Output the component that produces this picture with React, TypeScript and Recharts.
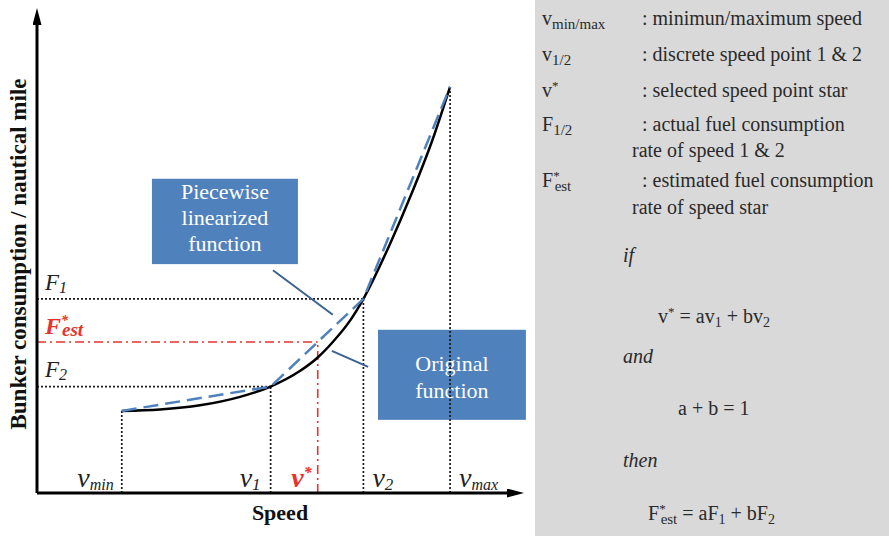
import React from 'react';
import {
  ComposedChart, Line, XAxis, YAxis, ReferenceLine, ReferenceDot, ReferenceArea,
} from 'recharts';

// speed points on the x axis (chart units)
const V_MIN = 18.0;
const V_1 = 49.6;
const V_STAR = 59.6;
const V_2 = 69.3;
const V_MAX = 87.7;

// consumption levels on the y axis
const F_MIN = 17.5;
const F_2 = 22.7;
const F_EST = 32.2;
const F_1 = 41.4;
const F_MAX = 86.6;

// original (convex) consumption curve
const curveSpeed = [18.0, 26.1, 34.6, 43.1, 49.6, 55.8, 59.6, 62.8, 66.5, 69.3, 74.9, 79.6, 83.9, 87.7];
const curveFuel = [17.5, 17.8, 18.7, 20.5, 22.7, 26.0, 28.9, 32.2, 36.8, 41.4, 53.0, 64.0, 75.1, 86.6];

// piecewise linearization through the breakpoints
const pieceSpeed = [V_MIN, V_1, V_2, V_MAX];
const pieceFuel = [F_MIN, F_2, F_1, F_MAX];

const originalData = curveSpeed.map((x, i) => ({ x, y: curveFuel[i] }));
const piecewiseData = pieceSpeed.map((x, i) => ({ x, y: pieceFuel[i] }));

const SERIF = '"Liberation Serif", "Times New Roman", serif';
const RED = '#e8322e';
const BLUE = '#4f81bd';
const LEADER = '#3a6293';
const TEXT = '#2a2a2a';

type Seg = { t: string; s?: number; fs?: number; dx?: number };

// text with sub/superscripts, s = baseline shift in px (positive = down)
const Rich = ({ x, y, segs, ...rest }: any) => {
  let cur = 0;
  return (
    <text x={x} y={y} fontFamily={SERIF} {...rest}>
      {segs.map((g: Seg, i: number) => {
        const s = g.s ?? 0;
        const dy = s - cur;
        cur = s;
        return (
          <tspan key={i} dy={dy} dx={g.dx} fontSize={g.fs}>{g.t}</tspan>
        );
      })}
    </text>
  );
};

const boxShape = (lines: string[], first: number, gap: number) => (p: any) => (
  <g>
    <rect x={p.x} y={p.y} width={p.width} height={p.height} fill={BLUE} />
    <text textAnchor="middle" fill="#fff" fontFamily={SERIF} fontSize={22}>
      {lines.map((l, i) => (
        <tspan key={i} x={p.x + p.width / 2} y={p.y + first + i * gap}>{l}</tspan>
      ))}
    </text>
  </g>
);

const speedLabel = (segs: Seg[], side: 'left' | 'right', off: number, color = '#222', bold = false) => (p: any) => (
  <Rich
    x={side === 'left' ? p.cx - off : p.cx + off}
    y={p.cy - 6}
    textAnchor={side === 'left' ? 'end' : 'start'}
    fontSize={28}
    fontStyle="italic"
    fontWeight={bold ? 'bold' : 'normal'}
    fill={color}
    segs={segs}
  />
);

const fuelLabel = (segs: Seg[], up: number, color = '#222', bold = false, fs = 23) => (p: any) => (
  <Rich
    x={p.cx + 8}
    y={p.cy - up}
    fontSize={fs}
    fontStyle="italic"
    fontWeight={bold ? 'bold' : 'normal'}
    fill={color}
    segs={segs}
  />
);

const dotted = { stroke: '#1a1a1a', strokeWidth: 1.7, strokeDasharray: '2 2' };
const dashDot = { stroke: RED, strokeWidth: 1.6, strokeDasharray: '9 4 2 4' };

const Chart = () => (
  <ComposedChart width={535} height={536} margin={{ top: 24, right: 27, bottom: 42, left: 36 }}>
    <defs>
      <marker
        id="arrowHead"
        viewBox="0 0 17 9"
        refX={1}
        refY={4.5}
        markerWidth={17}
        markerHeight={9}
        markerUnits="userSpaceOnUse"
        orient="auto-start-reverse"
      >
        <path d="M0,0 L17,4.5 L0,9 z" fill="#000" />
      </marker>
    </defs>
    <XAxis
      type="number"
      dataKey="x"
      domain={[0, 100]}
      height={1}
      tick={false}
      tickLine={false}
      axisLine={{ stroke: '#000', strokeWidth: 3, markerEnd: 'url(#arrowHead)' }}
    />
    <YAxis
      type="number"
      dataKey="y"
      domain={[0, 100]}
      width={1}
      tick={false}
      tickLine={false}
      axisLine={{ stroke: '#000', strokeWidth: 3, markerStart: 'url(#arrowHead)' }}
    />

    {/* dotted guides */}
    <ReferenceLine segment={[{ x: V_MIN, y: 0 }, { x: V_MIN, y: F_MIN }]} {...dotted} />
    <ReferenceLine segment={[{ x: V_1, y: 0 }, { x: V_1, y: F_2 }]} {...dotted} />
    <ReferenceLine segment={[{ x: V_2, y: 0 }, { x: V_2, y: F_1 }]} {...dotted} />
    <ReferenceLine segment={[{ x: V_MAX, y: 0 }, { x: V_MAX, y: F_MAX }]} {...dotted} />
    <ReferenceLine segment={[{ x: 0, y: F_1 }, { x: V_2, y: F_1 }]} {...dotted} />
    <ReferenceLine segment={[{ x: 0, y: F_2 }, { x: V_1, y: F_2 }]} {...dotted} />
    <ReferenceLine segment={[{ x: 0, y: F_EST }, { x: V_STAR, y: F_EST }]} {...dashDot} />
    <ReferenceLine segment={[{ x: V_STAR, y: 0 }, { x: V_STAR, y: F_EST }]} {...dashDot} />

    {/* callout boxes and leaders */}
    <ReferenceArea x1={24.4} x2={55.4} y1={48.8} y2={67.0} ifOverflow="visible"
      shape={boxShape(['Piecewise', 'linearized', 'function'], 20, 26)} />
    <ReferenceArea x1={72.4} x2={103.8} y1={15.6} y2={34.8} ifOverflow="visible"
      shape={boxShape(['Original', 'function'], 41, 27)} />
    <ReferenceLine segment={[{ x: 50.1, y: 47.5 }, { x: 62.8, y: 38.0 }]} stroke={LEADER} strokeWidth={2} />
    <ReferenceLine segment={[{ x: 62.6, y: 30.3 }, { x: 70.3, y: 26.9 }]} stroke={LEADER} strokeWidth={2} />

    <Line data={originalData} dataKey="y" type="monotone" stroke="#000" strokeWidth={2.5}
      dot={false} activeDot={false} isAnimationActive={false} />
    <Line data={piecewiseData} dataKey="y" type="linear" stroke={BLUE} strokeWidth={2.5}
      strokeDasharray="15 7" dot={false} activeDot={false} isAnimationActive={false} />

    {/* speed labels */}
    <ReferenceDot x={V_MIN} y={0} shape={speedLabel([{ t: 'v' }, { t: 'min', s: 3, fs: 16 }], 'left', 8)} />
    <ReferenceDot x={V_1} y={0} shape={speedLabel([{ t: 'v' }, { t: '1', s: 3, fs: 17 }], 'left', 10)} />
    <ReferenceDot x={V_STAR} y={0} shape={speedLabel([{ t: 'v' }, { t: '*', s: -9, fs: 16 }], 'left', 6, RED, true)} />
    <ReferenceDot x={V_2} y={0} shape={speedLabel([{ t: 'v' }, { t: '2', s: 3, fs: 17 }], 'right', 9)} />
    <ReferenceDot x={V_MAX} y={0} shape={speedLabel([{ t: 'v' }, { t: 'max', s: 3, fs: 16 }], 'right', 9)} />

    {/* fuel labels */}
    <ReferenceDot x={0} y={F_1} shape={fuelLabel([{ t: 'F' }, { t: '1', s: 3, fs: 16 }], 9)} />
    <ReferenceDot x={0} y={F_EST} shape={fuelLabel([{ t: 'F' }, { t: '*', s: -9, fs: 14 }, { t: 'est', s: 2, fs: 19, dx: -6 }], 8, RED, true, 24)} />
    <ReferenceDot x={0} y={F_2} shape={fuelLabel([{ t: 'F' }, { t: '2', s: 3, fs: 16 }], 10)} />

    <text x={280} y={520} textAnchor="middle" fontFamily={SERIF} fontWeight="bold" fontSize={22} fill="#111">Speed</text>
    <text x={26} y={254} textAnchor="middle" transform="rotate(-90, 26, 254)" fontFamily={SERIF}
      fontWeight="bold" fontSize={23} fill="#111">Bunker consumption / nautical mile</text>
  </ComposedChart>
);

const Panel = () => (
  <svg width={354} height={536} style={{ display: 'block' }}>
    <rect x={0} y={0} width={354} height={536} fill="#d9d9d9" />
    <g fill={TEXT} fontSize={20}>
      <Rich x={7} y={25} segs={[{ t: 'v' }, { t: 'min/max', s: 4, fs: 15 }]} />
      <Rich x={107} y={25} segs={[{ t: ': minimun/maximum speed' }]} />
      <Rich x={7} y={61} segs={[{ t: 'v' }, { t: '1/2', s: 4, fs: 15 }]} />
      <Rich x={107} y={61} segs={[{ t: ': discrete speed point 1 & 2' }]} />
      <Rich x={7} y={97} segs={[{ t: 'v' }, { t: '*', s: -7, fs: 13 }]} />
      <Rich x={107} y={97} segs={[{ t: ': selected speed point star' }]} />
      <Rich x={7} y={131} segs={[{ t: 'F' }, { t: '1/2', s: 4, fs: 15 }]} />
      <Rich x={107} y={131} segs={[{ t: ': actual fuel consumption' }]} />
      <Rich x={97} y={157} segs={[{ t: 'rate of speed 1 & 2' }]} />
      <Rich x={7} y={187} segs={[{ t: 'F' }, { t: '*', s: -7, fs: 13 }, { t: 'est', s: 4, fs: 15, dx: -5 }]} />
      <Rich x={107} y={187} segs={[{ t: ': estimated fuel consumption' }]} />
      <Rich x={97} y={214} segs={[{ t: 'rate of speed star' }]} />

      <Rich x={88} y={262} fontStyle="italic" segs={[{ t: 'if' }]} />
      <Rich x={123} y={323} segs={[
        { t: 'v' }, { t: '*', s: -7, fs: 13 }, { t: ' = av' }, { t: '1', s: 4, fs: 14 }, { t: ' + bv' }, { t: '2', s: 4, fs: 14 },
      ]} />
      <Rich x={88} y={363} fontStyle="italic" segs={[{ t: 'and' }]} />
      <Rich x={143} y={415} segs={[{ t: 'a + b = 1' }]} />
      <Rich x={88} y={467} fontStyle="italic" segs={[{ t: 'then' }]} />
      <Rich x={113} y={520} segs={[
        { t: 'F' }, { t: '*', s: -7, fs: 13 }, { t: 'est', s: 4, fs: 15, dx: -5 }, { t: ' = aF' }, { t: '1', s: 4, fs: 14 }, { t: ' + bF' }, { t: '2', s: 4, fs: 14 },
      ]} />
    </g>
  </svg>
);

export default function App() {
  return (
    <div style={{ position: 'absolute', left: 0, top: 0, width: 889, height: 536, background: '#fff', display: 'flex' }}>
      <Chart />
      <Panel />
    </div>
  );
}
